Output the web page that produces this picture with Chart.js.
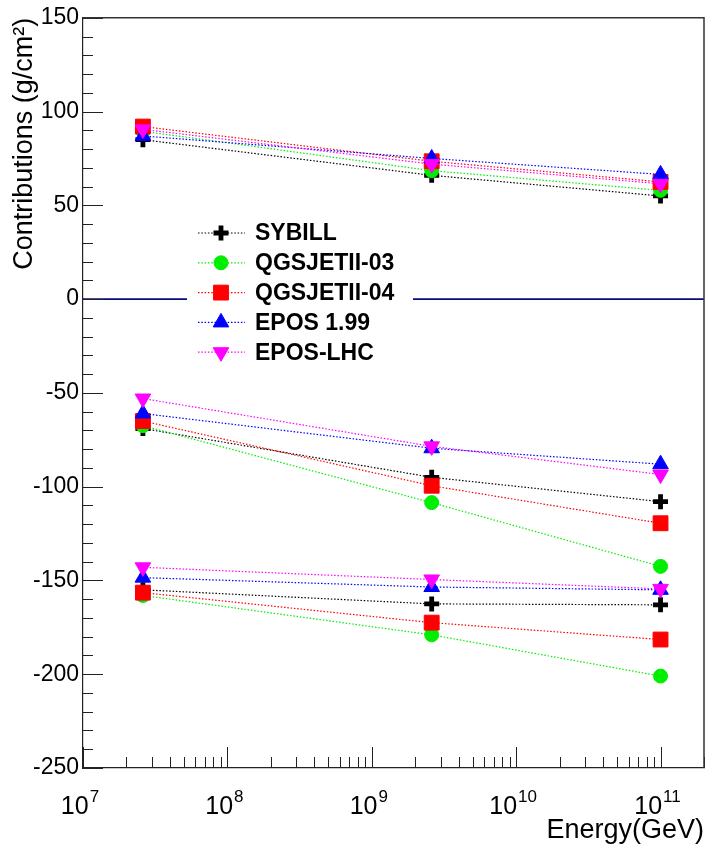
<!DOCTYPE html>
<html>
<head>
<meta charset="utf-8">
<title>Contributions vs Energy</title>
<script src="https://cdn.jsdelivr.net/npm/chart.js@4.4.1/dist/chart.umd.min.js"></script>
<style>
  html, body { margin: 0; padding: 0; background: #fff; }
  canvas { display: block; }
</style>
</head>
<body>
<canvas id="c" width="706" height="849"></canvas>
<script>
// Primary energies (GeV) at which every model was evaluated
const energyGeV = [2.6e7, 2.6e9, 1e11];

// Model names, in legend order
const models = ['SYBILL', 'QGSJETII-03', 'QGSJETII-04', 'EPOS 1.99', 'EPOS-LHC'];

// Upper band (positive contribution), g/cm^2
const sybillUpper = [85, 66, 55];
const qgs03Upper  = [89.5, 68.5, 58];
const qgs04Upper  = [92, 73.5, 62.5];
const epos199Upper = [87, 75, 66.5];
const eposLhcUpper = [90.5, 72, 61.5];

// Middle band, g/cm^2
const sybillMiddle = [-69, -95, -108];
const qgs03Middle  = [-67.5, -108.5, -142.5];
const qgs04Middle  = [-65, -99.5, -119.5];
const epos199Middle = [-61, -79.5, -88];
const eposLhcMiddle = [-53, -78.5, -93.5];

// Lower band, g/cm^2
const sybillLower = [-155, -162.5, -163];
const qgs03Lower  = [-158, -179, -201];
const qgs04Lower  = [-156.5, -172.5, -181.5];
const epos199Lower = [-148.5, -153.5, -155];
const eposLhcLower = [-143, -149.5, -154.5];

// Axis tick labels
const xTickExponents = [7, 8, 9, 10, 11];
const yTickValues = [-250, -200, -150, -100, -50, 0, 50, 100, 150];

const bands = [
  [sybillUpper, sybillMiddle, sybillLower],
  [qgs03Upper, qgs03Middle, qgs03Lower],
  [qgs04Upper, qgs04Middle, qgs04Lower],
  [epos199Upper, epos199Middle, epos199Lower],
  [eposLhcUpper, eposLhcMiddle, eposLhcLower]
];

// Marker / line style for each model
const styles = [
  { color: '#000000', pointStyle: 'cross',    radius: 7.5, rotation: 0,   border: 4.8 },
  { color: '#00ee00', pointStyle: 'circle',   radius: 7,   rotation: 0,   border: 1 },
  { color: '#ff0000', pointStyle: 'rect',     radius: 10.5, rotation: 0,  border: 1 },
  { color: '#0000ff', pointStyle: 'triangle', radius: 9,   rotation: 0,   border: 1 },
  { color: '#ff00ff', pointStyle: 'triangle', radius: 9,   rotation: 180, border: 1 }
];

const FONT = "'Liberation Sans', Arial, Helvetica, sans-serif";

const datasets = [];
bands.forEach((series, m) => {
  const s = styles[m];
  series.forEach((vals) => {
    datasets.push({
      label: models[m],
      data: vals.map((v, i) => ({ x: energyGeV[i], y: v })),
      borderColor: s.color,
      backgroundColor: s.color,
      borderWidth: 1.2,
      borderDash: [1.5, 1.8],
      pointStyle: s.pointStyle,
      pointRadius: s.radius,
      pointRotation: s.rotation,
      pointBackgroundColor: s.color,
      pointBorderColor: s.color,
      pointBorderWidth: s.border,
      order: 4 - m,
      tension: 0,
      fill: false,
      clip: false
    });
  });
});

function drawMarker(ctx, s, x, y) {
  ctx.save();
  ctx.fillStyle = s.color;
  ctx.strokeStyle = s.color;
  ctx.lineWidth = s.border;
  if (Chart.helpers && Chart.helpers.drawPoint) {
    Chart.helpers.drawPoint(ctx, {
      pointStyle: s.pointStyle, rotation: s.rotation,
      radius: s.radius, borderWidth: s.border
    }, x, y);
  } else {
    ctx.beginPath(); ctx.arc(x, y, s.radius, 0, Math.PI * 2); ctx.fill();
  }
  ctx.restore();
}

// Frame, inner ticks, zero line, legend and power-of-ten labels
const frameAndLegend = {
  id: 'frameAndLegend',
  beforeDatasetsDraw(chart) {
    const { ctx, chartArea: a, scales: { x, y } } = chart;
    ctx.save();
    // zero line
    const y0 = y.getPixelForValue(0);
    ctx.strokeStyle = '#0a0a80';
    ctx.lineWidth = 1.6;
    ctx.beginPath(); ctx.moveTo(a.left, y0); ctx.lineTo(a.right, y0); ctx.stroke();

    // y ticks drawn inward from the left axis
    ctx.strokeStyle = '#222';
    ctx.lineWidth = 1;
    for (let v = y.min; v <= y.max + 1e-9; v += 10) {
      const p = Math.round(y.getPixelForValue(v)) + 0.5;
      const len = (v % 50 === 0) ? 20 : 10;
      ctx.beginPath(); ctx.moveTo(a.left, p); ctx.lineTo(a.left + len, p); ctx.stroke();
    }
    // x ticks drawn upward from the bottom axis
    for (let e = xTickExponents[0]; e <= xTickExponents[xTickExponents.length - 1]; e++) {
      for (let k = 1; k <= 9; k++) {
        const v = k * Math.pow(10, e);
        if (v > x.max) break;
        const p = Math.round(x.getPixelForValue(v)) + 0.5;
        const len = k === 1 ? 21 : 11;
        ctx.beginPath(); ctx.moveTo(p, a.bottom); ctx.lineTo(p, a.bottom - len); ctx.stroke();
      }
    }
    // top and right frame
    ctx.strokeStyle = '#333';
    ctx.lineWidth = 1.5;
    ctx.beginPath();
    ctx.moveTo(a.left, a.top); ctx.lineTo(a.right, a.top); ctx.lineTo(a.right, a.bottom);
    ctx.stroke();
    ctx.restore();
  },
  afterDatasetsDraw(chart) {
    const { ctx } = chart;
    ctx.save();
    // legend box (white, no border)
    ctx.fillStyle = '#fff';
    ctx.fillRect(187, 216, 226, 152);
    models.forEach((name, i) => {
      const s = styles[i];
      const ly = 233 + i * 29.8;
      ctx.save();
      ctx.strokeStyle = s.color;
      ctx.lineWidth = 1.2;
      ctx.setLineDash([1.5, 1.8]);
      ctx.beginPath(); ctx.moveTo(198, ly); ctx.lineTo(245, ly); ctx.stroke();
      ctx.restore();
      drawMarker(ctx, s, 221, ly);
      ctx.fillStyle = '#000';
      ctx.font = 'bold 23px ' + FONT;
      ctx.textBaseline = 'middle';
      ctx.textAlign = 'left';
      ctx.fillText(name, 255, ly + 1);
    });
    ctx.restore();
  },
  afterDraw(chart) {
    const { ctx, scales: { x } } = chart;
    ctx.save();
    ctx.fillStyle = '#000';
    ctx.textBaseline = 'alphabetic';
    ctx.textAlign = 'left';
    xTickExponents.forEach((e) => {
      const p = x.getPixelForValue(Math.pow(10, e));
      ctx.font = '25px ' + FONT;
      const wb = ctx.measureText('10').width;
      ctx.font = '17px ' + FONT;
      const we = ctx.measureText(String(e)).width;
      const start = p - (wb + we + 1) / 2 - 3;
      ctx.font = '25px ' + FONT;
      ctx.fillText('10', start, 814);
      ctx.font = '17px ' + FONT;
      ctx.fillText(String(e), start + wb + 1, 802);
    });
    ctx.restore();
  }
};

new Chart(document.getElementById('c'), {
  type: 'line',
  data: { datasets },
  plugins: [frameAndLegend],
  options: {
    responsive: false,
    animation: false,
    events: [],
    layout: { autoPadding: false, padding: { top: 17, right: 2, left: 0, bottom: 0 } },
    plugins: { legend: { display: false }, tooltip: { enabled: false } },
    scales: {
      x: {
        type: 'logarithmic',
        min: 1e7,
        max: 2e11,
        grid: { display: false, drawTicks: false },
        border: { display: true, color: '#222', width: 1.2 },
        ticks: { display: false },
        title: {
          display: true, text: 'Energy(GeV)', align: 'end', color: '#000',
          font: { family: FONT, size: 27 }, padding: { top: 0, bottom: 2 }
        },
        afterFit(scale) { scale.height = 81; }
      },
      y: {
        type: 'linear',
        min: -250,
        max: 150,
        afterBuildTicks(scale) { scale.ticks = yTickValues.map(v => ({ value: v })); },
        grid: { display: false, drawTicks: false },
        border: { display: true, color: '#222', width: 1.2 },
        ticks: { color: '#000', padding: 4, font: { family: FONT, size: 23 } },
        title: {
          display: true, text: 'Contributions (g/cm²)', align: 'end', color: '#000',
          font: { family: FONT, size: 27 }, padding: { top: 8, bottom: 0 }
        },
        afterFit(scale) { scale.width = 83; }
      }
    }
  }
});
</script>
</body>
</html>
